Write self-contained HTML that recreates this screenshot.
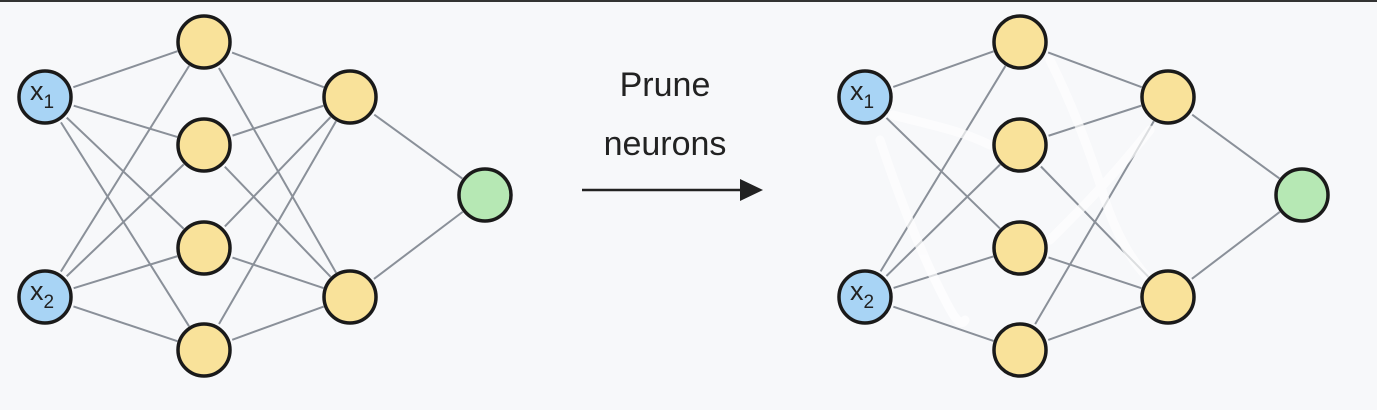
<!DOCTYPE html>
<html><head><meta charset="utf-8"><style>
body{margin:0;background:#f7f8fa;}
svg{display:block}
</style></head><body>
<svg width="1377" height="410" viewBox="0 0 1377 410">
<rect x="0" y="0" width="1377" height="410" fill="#f7f8fa"/>
<rect x="0" y="0" width="1377" height="2" fill="#333"/>
<g id="edges" stroke="#8a9099" stroke-width="2" fill="none"></g>
<g id="whites" stroke="#ffffff" stroke-width="9" stroke-linecap="round" fill="none" opacity="0.7">
<path d="M893,115 C930,125 960,130 990,145"/>
<path d="M880,140 C900,200 920,250 940,290 C950,310 960,330 965,320"/>
<path d="M1050,60 C1070,100 1090,150 1105,200 C1115,230 1130,260 1150,280"/>
<path d="M1050,240 C1080,210 1110,180 1150,130"/>
</g>
<g id="nodes" stroke="#1a1a1a" stroke-width="3.5"></g>
<text x="665" y="96" font-family="Liberation Sans, sans-serif" font-size="34" text-anchor="middle" fill="#222">Prune</text>
<text x="665" y="155" font-family="Liberation Sans, sans-serif" font-size="34" text-anchor="middle" fill="#222">neurons</text>
<line x1="582" y1="190" x2="742" y2="190" stroke="#222" stroke-width="2.5"/>
<polygon points="740,179 763,190 740,201" fill="#222"/>
</svg>
<script>
const NS="http://www.w3.org/2000/svg";
const R=26;
function nets(dx,hx,ax,ox){return{x:[[dx,97],[dx,297]],h:[[hx,42],[hx,145],[hx,248],[hx,350]],a:[[ax,97],[ax,297]],o:[[ox,195]]};}
const L=nets(45,204,350,485), Rn=nets(865,1020,1168,1302);
const fullEdges=[];
for(let i=0;i<2;i++)for(let j=0;j<4;j++)fullEdges.push(['x',i,'h',j]);
for(let i=0;i<4;i++)for(let j=0;j<2;j++)fullEdges.push(['h',i,'a',j]);
for(let i=0;i<2;i++)fullEdges.push(['a',i,'o',0]);
const pruned=['x0h1','x0h3','h0a1','h2a0'];
const eg=document.getElementById('edges'), ng=document.getElementById('nodes');
function drawEdges(net,skip){
  fullEdges.forEach(e=>{
    if(skip&&pruned.includes(e[0]+e[1]+e[2]+e[3]))return;
    const p=net[e[0]][e[1]],q=net[e[2]][e[3]];
    const d=Math.hypot(q[0]-p[0],q[1]-p[1]);
    const ux=(q[0]-p[0])/d,uy=(q[1]-p[1])/d;
    const l=document.createElementNS(NS,'line');
    l.setAttribute('x1',p[0]+ux*(R+4));l.setAttribute('y1',p[1]+uy*(R+4));
    l.setAttribute('x2',q[0]-ux*(R+2));l.setAttribute('y2',q[1]-uy*(R+2));
    
    
    eg.appendChild(l);
  });
}
function drawNodes(net){
  const col={x:'#a8d4f5',h:'#f9e29a',a:'#f9e29a',o:'#b6e8b4'};
  for(const k in net)net[k].forEach((p,i)=>{
    const c=document.createElementNS(NS,'circle');
    c.setAttribute('cx',p[0]);c.setAttribute('cy',p[1]);c.setAttribute('r',R);
    c.setAttribute('fill',col[k]);
    
    
    ng.appendChild(c);
    if(k==='x'){
      const t=document.createElementNS(NS,'text');
      t.setAttribute('x',p[0]-15);t.setAttribute('y',p[1]+3);
      t.setAttribute('font-family','Liberation Sans, sans-serif');t.setAttribute('font-size','27');
      t.setAttribute('stroke','none');t.setAttribute('fill','#222');
      t.innerHTML='x<tspan font-size="19" dy="8">'+(i+1)+'</tspan>';
      
      
      ng.appendChild(t);
    }
  });
}
drawEdges(L,false);drawEdges(Rn,true);
drawNodes(L);drawNodes(Rn);
</script>
</body></html>
